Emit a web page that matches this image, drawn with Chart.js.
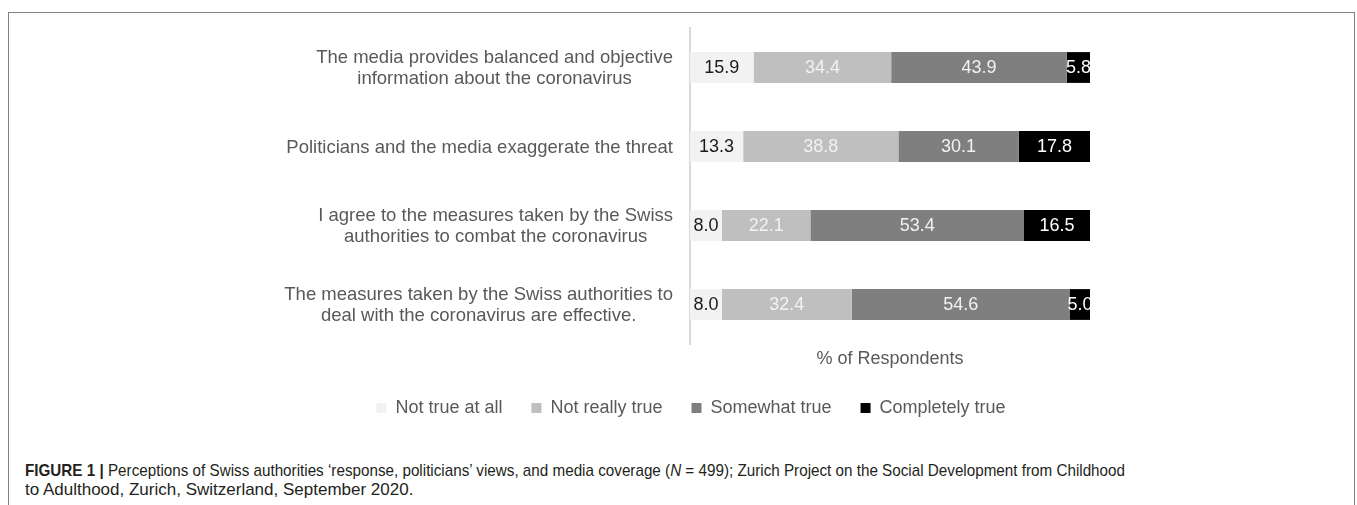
<!DOCTYPE html>
<html lang="en">
<head>
  <meta charset="UTF-8" />
  <title>Perceptions of Swiss authorities</title>
  <style>
    body {
      margin: 0;
      background: #fff;
      width: 1357px;
      height: 505px;
      overflow: hidden;
      position: relative;
      font-family: 'Liberation Sans', Arial, sans-serif;
    }
    #frame {
      position: absolute;
      left: 8px;
      top: 12px;
      width: 1345px;
      height: 600px;
      border: 1px solid #808080;
    }
    #chart {
      position: absolute;
      left: 0;
      top: 0;
    }
    #caption {
      position: absolute;
      left: 25px;
      top: 461px;
      font-size: 17px;
      line-height: 19px;
      color: #231f20;
      white-space: nowrap;
    }
    #line1 {
      display: inline-block;
      transform-origin: left center;
    }
  </style>
</head>
<body>
  <div id="frame"></div>
  <canvas id="chart" width="1357" height="430"></canvas>
  <div id="caption">
    <div><span id="line1"><b>FIGURE 1 |</b> Perceptions of Swiss authorities ‘response, politicians’ views, and media coverage (<i>N</i> = 499); Zurich Project on the Social Development from Childhood</span></div>
    <div>to Adulthood, Zurich, Switzerland, September 2020.</div>
  </div>

  <script src="https://cdn.jsdelivr.net/npm/chart.js"></script>
  <script>
    const categories = [
      ['The media provides balanced and objective', 'information about the coronavirus'],
      ['Politicians and the media exaggerate the threat'],
      ['I agree to the measures taken by the Swiss', 'authorities to combat the coronavirus'],
      ['The measures taken by the Swiss authorities to', 'deal with the coronavirus are effective.']
    ];
    const seriesNames = ['Not true at all', 'Not really true', 'Somewhat true', 'Completely true'];
    const notTrueAtAll = [15.9, 13.3, 8.0, 8.0];
    const notReallyTrue = [34.4, 38.8, 22.1, 32.4];
    const somewhatTrue = [43.9, 30.1, 53.4, 54.6];
    const completelyTrue = [5.8, 17.8, 16.5, 5.0];

    const barColors = ['#f2f2f2', '#bfbfbf', '#7f7f7f', '#000000'];
    const labelColors = ['#1a1a1a', '#f2f2f2', '#f2f2f2', '#ffffff'];
    const FONT = "'Liberation Sans', Arial, sans-serif";

    // value labels centred in each bar segment
    const valueLabels = {
      id: 'valueLabels',
      afterDatasetsDraw(chart) {
        const ctx = chart.ctx;
        ctx.save();
        ctx.font = '18px ' + FONT;
        ctx.textAlign = 'center';
        ctx.textBaseline = 'middle';
        chart.data.datasets.forEach((ds, i) => {
          chart.getDatasetMeta(i).data.forEach((bar, j) => {
            ctx.fillStyle = labelColors[i];
            ctx.fillText(ds.data[j].toFixed(1), (bar.x + bar.base) / 2, bar.y + 1);
          });
        });
        ctx.restore();
      }
    };

    // category labels: right edge fixed, lines centred on each other
    const categoryLabels = {
      id: 'categoryLabels',
      afterDraw(chart) {
        const ctx = chart.ctx;
        const yScale = chart.scales.y;
        ctx.save();
        ctx.font = '18.5px ' + FONT;
        ctx.fillStyle = '#595959';
        ctx.textAlign = 'center';
        ctx.textBaseline = 'middle';
        categories.forEach((lines, i) => {
          const w = Math.max(...lines.map(l => ctx.measureText(l).width));
          const cx = chart.chartArea.left - 17 - w / 2;
          const cy = yScale.getPixelForValue(i) + 1;
          lines.forEach((l, k) => {
            ctx.fillText(l, cx, cy + (k - (lines.length - 1) / 2) * 21);
          });
        });
        ctx.restore();
      }
    };

    const series = [notTrueAtAll, notReallyTrue, somewhatTrue, completelyTrue];
    const datasets = series.map((d, i) => ({
      label: seriesNames[i],
      data: d,
      backgroundColor: barColors[i],
      borderWidth: 0,
      barPercentage: 1,
      categoryPercentage: 0.39
    }));

    new Chart(document.getElementById('chart'), {
      type: 'bar',
      data: { labels: categories.map(c => c.join(' ')), datasets },
      options: {
        indexAxis: 'y',
        responsive: false,
        animation: false,
        devicePixelRatio: 1,
        layout: { padding: { left: 292, right: 267, top: 28, bottom: 3 } },
        plugins: {
          tooltip: { enabled: false },
          legend: {
            position: 'bottom',
            labels: {
              boxWidth: 10,
              boxHeight: 10,
              padding: 29,
              color: '#595959',
              font: { family: FONT, size: 18 }
            }
          }
        },
        scales: {
          x: {
            stacked: true,
            min: 0,
            max: 100,
            ticks: { display: false },
            grid: { display: false },
            border: { display: false },
            title: {
              display: true,
              text: '% of Respondents',
              color: '#595959',
              font: { family: FONT, size: 18 },
              padding: { top: 0, bottom: 0 }
            },
            afterFit: s => { s.height = 26; }
          },
          y: {
            stacked: true,
            z: 1,
            ticks: { display: false },
            grid: { display: false },
            border: { display: true, color: '#d9d9d9', width: 2 },
            afterFit: s => { s.width = 398; }
          }
        }
      },
      plugins: [valueLabels, categoryLabels]
    });

    // first caption line is justified to the full text width
    const line1 = document.getElementById('line1');
    const w1 = line1.getBoundingClientRect().width;
    line1.style.transform = 'scaleX(' + (1100 / w1) + ')';
  </script>
</body>
</html>
